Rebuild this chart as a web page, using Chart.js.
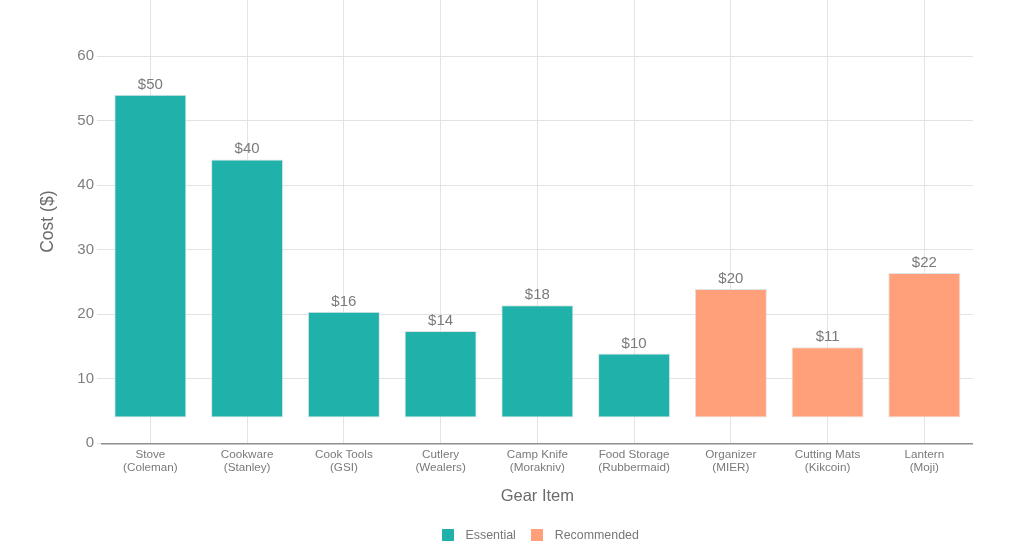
<!DOCTYPE html>
<html>
<head>
<meta charset="utf-8">
<script src="https://cdn.jsdelivr.net/npm/chart.js@4.4.1/dist/chart.umd.min.js"></script>
<style>
  html, body { margin: 0; padding: 0; background: #ffffff; }
  #wrap { width: 1024px; height: 560px; }
</style>
</head>
<body>
<div id="wrap"><canvas id="c" width="1024" height="560"></canvas></div>
<script>
// ---- data ----
const categories = [
  ['Stove', '(Coleman)'],
  ['Cookware', '(Stanley)'],
  ['Cook Tools', '(GSI)'],
  ['Cutlery', '(Wealers)'],
  ['Camp Knife', '(Morakniv)'],
  ['Food Storage', '(Rubbermaid)'],
  ['Organizer', '(MIER)'],
  ['Cutting Mats', '(Kikcoin)'],
  ['Lantern', '(Moji)']
];
const costLabels = [50, 40, 16, 14, 18, 10, 20, 11, 22];
const barBase = [4, 4, 4, 4, 4, 4, 4, 4, 4];
const barTop = [54, 44, 20.4, 17.4, 21.4, 13.9, 23.9, 14.9, 26.4];
const groups = ['Essential', 'Essential', 'Essential', 'Essential', 'Essential', 'Essential',
                'Recommended', 'Recommended', 'Recommended'];
const seriesNames = ['Essential', 'Recommended'];
const yTicks = [0, 10, 20, 30, 40, 50, 60];

const colors = { Essential: '#20B2AA', Recommended: '#FFA07A' };
const FONT = "'Liberation Sans', Arial, Helvetica, sans-serif";
const LEGEND_SLOT = 22.8;

function swatch(color) {
  const c = document.createElement('canvas');
  c.width = 12; c.height = 12;
  const g = c.getContext('2d');
  g.fillStyle = color;
  g.fillRect(0, 0, 12, 12);
  return c;
}

const datasets = seriesNames.map(name => ({
  label: name,
  data: barTop.map((t, i) => groups[i] === name ? [barBase[i], t] : null),
  backgroundColor: colors[name],
  borderColor: 'rgba(225,225,225,0.9)',
  borderWidth: 1,
  borderSkipped: false,
  grouped: false,
  categoryPercentage: 1.0,
  barPercentage: 0.745,
  pointStyle: swatch(colors[name])
}));

const valueLabels = {
  id: 'valueLabels',
  afterDatasetsDraw(chart) {
    const ctx = chart.ctx;
    ctx.save();
    ctx.font = '15px ' + FONT;
    ctx.fillStyle = '#7a7a7a';
    ctx.textAlign = 'center';
    ctx.textBaseline = 'alphabetic';
    chart.data.datasets.forEach((ds, di) => {
      const meta = chart.getDatasetMeta(di);
      meta.data.forEach((bar, i) => {
        if (ds.data[i] == null) return;
        ctx.fillText('$' + costLabels[i], bar.x, bar.y - 6);
      });
    });
    ctx.restore();
  }
};

// centre the legend on the plot area (slightly right, as in the reference)
const legendShift = {
  id: 'legendShift',
  afterLayout(chart) {
    const ca = chart.chartArea;
    const lg = chart.legend;
    const pad = lg.options.labels.padding;
    const lw = lg.lineWidths[0];
    const cursor0 = (lg.left + pad + lg.right - lw) / 2;
    const start = cursor0 + LEGEND_SLOT / 2 - 6;
    const end = cursor0 + lw - pad;
    const shift = (ca.left + ca.right) / 2 + 3 - (start + end) / 2;
    lg.left += shift;
    lg.right += shift;
  }
};

new Chart(document.getElementById('c'), {
  type: 'bar',
  data: { labels: categories, datasets },
  plugins: [valueLabels, legendShift],
  options: {
    responsive: false,
    animation: false,
    layout: { padding: { left: 0, right: 51.3, top: 0, bottom: 8.5 } },
    plugins: {
      tooltip: { enabled: false },
      legend: {
        position: 'bottom',
        labels: {
          font: { family: FONT, size: 12.4 },
          color: '#777777',
          usePointStyle: true,
          pointStyleWidth: LEGEND_SLOT,
          boxHeight: 12.4,
          padding: 10
        }
      }
    },
    scales: {
      x: {
        offset: true,
        grid: { offset: false, color: '#e3e3e3', drawTicks: false },
        border: { display: true, color: '#8f8f8f', width: 1.5 },
        ticks: {
          font: { family: FONT, size: 11.7, lineHeight: 1.11 },
          color: '#7a7a7a',
          padding: 5,
          maxRotation: 0,
          autoSkip: false
        },
        title: {
          display: true,
          text: 'Gear Item',
          font: { family: FONT, size: 16.5 },
          color: '#6b6b6b',
          padding: { top: 0, bottom: 13.2 }
        },
        afterFit(s) {
          s.height = 75.8;
          s.paddingLeft = 0;
          s.paddingRight = 0;
        }
      },
      y: {
        min: 0,
        max: 68.7,
        ticks: {
          stepSize: 10,
          font: { family: FONT, size: 15 },
          color: '#7f7f7f',
          padding: 3
        },
        afterBuildTicks(s) {
          s.ticks = yTicks.map(v => ({ value: v }));
        },
        grid: { color: '#e3e3e3', tickLength: 5 },
        border: { display: false },
        title: {
          display: true,
          text: 'Cost ($)',
          font: { family: FONT, size: 17.5 },
          color: '#6b6b6b',
          padding: { top: 37.5, bottom: 0 }
        },
        afterFit(s) {
          s.width = 102;
          s.paddingTop = 0;
          s.paddingBottom = 0;
        }
      }
    }
  }
});
</script>
</body>
</html>
